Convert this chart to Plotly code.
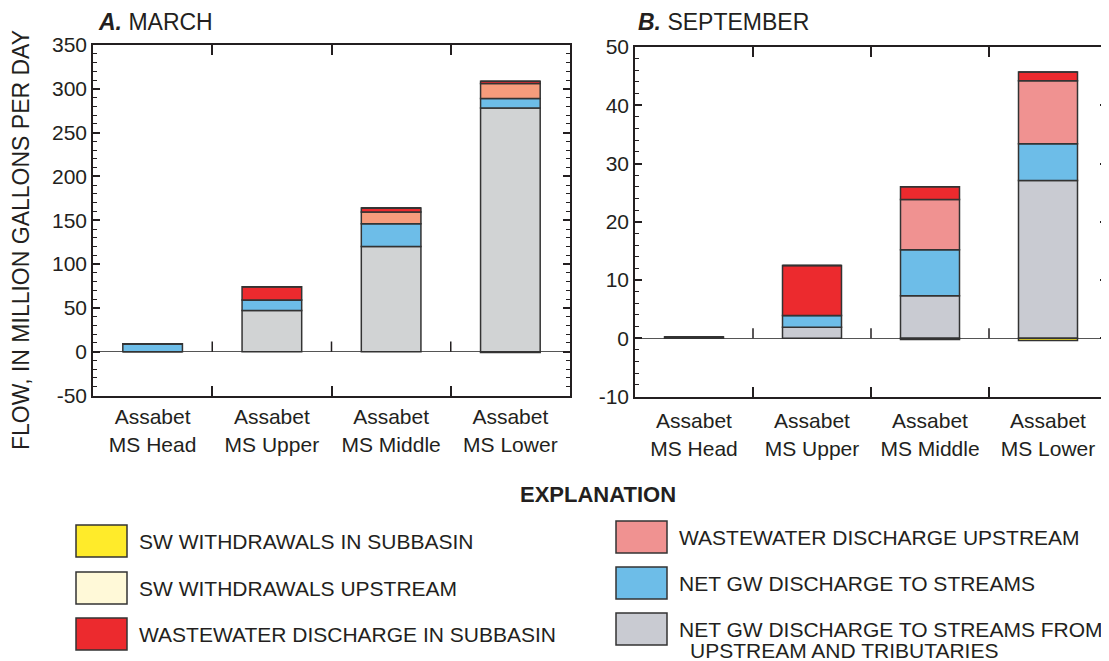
import plotly.graph_objects as go

# page body has an 8px margin; the figure is sized to fill the rest of the window
OFF = 8
W, H = 1109 - OFF, 661 - OFF

categories = ["Assabet<br>MS Head", "Assabet<br>MS Upper", "Assabet<br>MS Middle", "Assabet<br>MS Lower"]

# Series names (legend)
name_sw_sub = "SW WITHDRAWALS IN SUBBASIN"
name_sw_up = "SW WITHDRAWALS UPSTREAM"
name_ww_sub = "WASTEWATER DISCHARGE IN SUBBASIN"
name_ww_up = "WASTEWATER DISCHARGE UPSTREAM"
name_gw_net = "NET GW DISCHARGE TO STREAMS"
name_gw_up = "NET GW DISCHARGE TO STREAMS FROM UPSTREAM AND TRIBUTARIES"

# A. March (million gallons per day)
march_gw_up = [0, 47, 120, 278]
march_gw_net = [9, 12, 26, 11]
march_ww_up = [0, 0, 13.5, 17]
march_ww_sub = [0, 15, 4.5, 2.5]
march_sw_sub = [0, 0, 0, -0.8]
march_sw_up = [0, 0, 0, 0]

# B. September (million gallons per day)
sep_gw_up = [0, 1.9, 7.3, 27.1]
sep_gw_net = [0.2, 2.0, 7.9, 6.3]
sep_ww_up = [0, 0, 8.6, 10.8]
sep_ww_sub = [0, 8.6, 2.2, 1.5]
sep_sw_sub = [0, 0, 0, -0.4]
sep_sw_up = [0, 0, -0.2, 0]

# y tick values
ticks_a = [-50, 0, 50, 100, 150, 200, 250, 300, 350]
ticks_b = [-10, 0, 10, 20, 30, 40, 50]

c_yellow = "#FFEB2A"
c_cream = "#FFF9D8"
c_red = "#EC2A2E"
c_pink = "#F09291"
c_salmon = "#F69C7C"
c_blue = "#6DBDE8"
c_grayA = "#D1D3D4"
c_grayB = "#C9CBD2"
ink = "#231F20"
FONT = "Liberation Sans, Arial, Helvetica, sans-serif"

fig = go.Figure()

def add_bars(xa, ya, series):
    for vals, color, name in series:
        fig.add_trace(go.Bar(
            x=categories, y=vals, name=name, xaxis=xa, yaxis=ya,
            marker=dict(color=color, line=dict(color="#333333", width=1.5)),
            width=0.5, showlegend=False, hoverinfo="x+y+name"))

add_bars("x", "y", [
    (march_gw_up, c_grayA, name_gw_up),
    (march_gw_net, c_blue, name_gw_net),
    (march_ww_up, c_salmon, name_ww_up),
    (march_ww_sub, c_red, name_ww_sub),
    (march_sw_sub, c_yellow, name_sw_sub),
    (march_sw_up, c_cream, name_sw_up),
])
add_bars("x2", "y2", [
    (sep_gw_up, c_grayB, name_gw_up),
    (sep_gw_net, c_blue, name_gw_net),
    (sep_ww_up, c_pink, name_ww_up),
    (sep_ww_sub, c_red, name_ww_sub),
    (sep_sw_sub, c_yellow, name_sw_sub),
    (sep_sw_up, c_cream, name_sw_up),
])

def px(x):
    return (x - OFF) / W

def py(y):
    return 1 - (y - OFF) / H

xcommon = dict(type="category", showline=True, linecolor=ink, linewidth=1.5,
               mirror="ticks", ticks="inside", tickson="boundaries", ticklen=10,
               tickcolor=ink, tickwidth=1.5, showgrid=False, zeroline=False,
               tickfont=dict(size=21, color=ink, family=FONT), automargin=False,
               range=[-0.5, 3.5])
ycommon = dict(showline=True, linecolor=ink, linewidth=1.5, mirror="ticks",
               ticks="inside", ticklen=7, tickcolor=ink, tickwidth=1.5,
               showgrid=False, zeroline=True, zerolinecolor="#555555", zerolinewidth=1.2,
               tickfont=dict(size=21, color=ink, family=FONT), automargin=False,
               tickmode="array", ticklabelstandoff=0)

fig.update_layout(
    width=W, height=H,
    margin=dict(l=0, r=0, t=0, b=0),
    paper_bgcolor="white", plot_bgcolor="white",
    barmode="relative",
    font=dict(family=FONT, color=ink),
    xaxis=dict(domain=[px(93), px(570)], anchor="y", ticklabelstandoff=2, **xcommon),
    xaxis2=dict(domain=[px(635), px(1107)], anchor="y2", ticklabelstandoff=5, **xcommon),
    yaxis=dict(domain=[py(395.5), py(45)], anchor="x", range=[-50, 350],
               tickvals=ticks_a, ticktext=[str(v) for v in ticks_a],
               minor=dict(ticks="inside", tickmode="linear", tick0=0, dtick=10,
                          ticklen=4, tickcolor=ink, tickwidth=1),
               **ycommon),
    yaxis2=dict(domain=[py(396.5), py(47)], anchor="x2", range=[-10, 50],
                tickvals=ticks_b, ticktext=[str(v) for v in ticks_b],
                minor=dict(ticks="inside", tickmode="linear", tick0=0, dtick=2,
                           ticklen=4, tickcolor=ink, tickwidth=1),
                **ycommon),
)

# category boundary ticks standing on the zero line
shapes = []
for i in range(len(categories) - 1):
    shapes.append(dict(type="line", xref="x", yref="y", x0=i + 0.5, x1=i + 0.5,
                       y0=0, y1=11.5, line=dict(color=ink, width=1.5)))
    shapes.append(dict(type="line", xref="x2", yref="y2", x0=i + 0.5, x1=i + 0.5,
                       y0=0, y1=1.7, line=dict(color=ink, width=1.5)))

annotations = []
# Panel titles
annotations.append(dict(text="<b><i>A.</i></b> MARCH", x=px(96), y=py(22), xref="paper", yref="paper",
                        xanchor="left", yanchor="middle", showarrow=False,
                        font=dict(size=23, color=ink, family=FONT)))
annotations.append(dict(text="<b><i>B.</i></b> SEPTEMBER", x=px(636), y=py(22), xref="paper", yref="paper",
                        xanchor="left", yanchor="middle", showarrow=False,
                        font=dict(size=23, color=ink, family=FONT)))
# Y axis title
annotations.append(dict(text="FLOW, IN MILLION GALLONS PER DAY", x=px(21), y=py(240), xref="paper", yref="paper",
                        xanchor="center", yanchor="middle", textangle=-90, showarrow=False,
                        font=dict(size=23, color=ink, family=FONT)))
# Explanation
annotations.append(dict(text="<b>EXPLANATION</b>", x=px(598), y=py(495), xref="paper", yref="paper",
                        xanchor="center", yanchor="middle", showarrow=False,
                        font=dict(size=22, color=ink, family=FONT)))

legend_items = [
    (c_yellow, [name_sw_sub], 76, 525),
    (c_cream, [name_sw_up], 76, 572),
    (c_red, [name_ww_sub], 76, 618),
    (c_pink, [name_ww_up], 616, 521),
    (c_blue, [name_gw_net], 616, 567),
    (c_grayB, ["NET GW DISCHARGE TO STREAMS FROM", "UPSTREAM AND TRIBUTARIES"], 616, 613),
]
for color, lines, lx, ly in legend_items:
    shapes.append(dict(type="rect", xref="paper", yref="paper",
                       x0=px(lx), x1=px(lx + 51), y0=py(ly + 32), y1=py(ly),
                       fillcolor=color, line=dict(color="#333333", width=1.5)))
    for k, t in enumerate(lines):
        annotations.append(dict(text=t, x=px(lx + 61 + (11 if k else 0)), y=py(ly + 16 + 21 * k),
                                xref="paper", yref="paper", xanchor="left", yanchor="middle",
                                showarrow=False, font=dict(size=21, color=ink, family=FONT)))

fig.update_layout(shapes=shapes, annotations=annotations)

fig.write_html("out.html")
